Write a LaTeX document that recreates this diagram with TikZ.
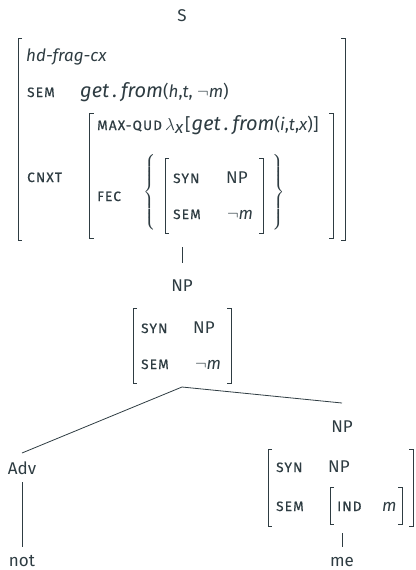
\documentclass[tikz,border=0pt]{standalone}
\usepackage{graphicx}
\usepackage{fontspec}
\setmainfont{Fira Sans}
\definecolor{ink}{RGB}{46,60,66}
\newcommand\fsc[1]{{\fontsize{13.5}{15}\selectfont\addfontfeature{LetterSpace=9,FakeBold=0.8}#1}}
\newcommand\gf{{\fontsize{20}{22}\selectfont\itshape get\hspace{3.5pt}.\hspace{3.5pt}from}}
\newcommand\myneg{$\neg$}
\begin{document}
\begin{tikzpicture}[x=1pt,y=-1pt,
  every node/.style={inner sep=0pt, text=ink, font=\fontsize{17}{20}\selectfont},
  lbl/.style={anchor=base west},
  cat/.style={anchor=base},
  brk/.style={draw=ink, line width=0.8pt},
  edge/.style={draw=ink, line width=0.8pt}]
\useasboundingbox (0,0) rectangle (415,570);
\newcommand\lbrk[3]{\draw[brk] ({#1+4},#2) -- (#1,#2) -- (#1,#3) -- ({#1+4},#3);}
\newcommand\rbrk[3]{\draw[brk] ({#1-4},#2) -- (#1,#2) -- (#1,#3) -- ({#1-4},#3);}
% top
\node[cat] (S) at (182,21) {S};
\lbrk{18}{38}{240}\rbrk{345}{38}{240}
\node[lbl] (type) at (26,61) {\itshape hd-frag-cx};
\node[lbl] (semA) at (27,97) {\fsc{SEM}};
\node[lbl] (semAv) at (80,97) {\gf(\textit{h},\textit{t}, \myneg\textit{m})};
\node[lbl] (cnxt) at (27,182) {\fsc{CNXT}};
\lbrk{89.5}{113}{238}\rbrk{333}{113}{238}
\node[lbl] (mq) at (97,130) {\fsc{MAX-QUD}};
\node[lbl] (mqv) at (165,130) {$\lambda_{\textit{x}}$\hspace{1.5pt}[\hspace{1pt}\gf(\textit{i},\textit{t},\textit{x})]};
\node[lbl] (fec) at (97,201) {\fsc{FEC}};
\node (lbr) at (151,194) {\scalebox{1.4}{$\left\{\vrule height 25pt depth 25pt width 0pt\right.$}};
\node (rbr) at (278,194) {\scalebox{1.4}{$\left.\vrule height 25pt depth 25pt width 0pt\right\}$}};
\lbrk{165}{158}{233}\rbrk{263}{158}{233}
\node[lbl] (syn1) at (173,183) {\fsc{SYN}};
\node[lbl] (syn1v) at (226,183) {NP};
\node[lbl] (sem1) at (173,219) {\fsc{SEM}};
\node[lbl] (sem1v) at (227,219) {\myneg\textit{m}};
\coordinate (Sbot) at (182,247);
% NP mid
\node[cat] (NP) at (182,291) {NP};
\coordinate (NPtop) at (182,263);
\lbrk{133}{308}{383}\rbrk{231}{308}{383}
\node[lbl] (syn2) at (141,333) {\fsc{SYN}};
\node[lbl] (syn2v) at (193,333) {NP};
\node[lbl] (sem2) at (141,369) {\fsc{SEM}};
\node[lbl] (sem2v) at (195,369) {\myneg\textit{m}};
\coordinate (NPbot) at (182,387);
% Adv
\node[cat] (Adv) at (22,474) {Adv};
\coordinate (Advtop) at (22,453);
\coordinate (Advbot) at (22,482);
\node[cat] (not) at (22,566) {not};
\coordinate (nottop) at (22,547);
% NP right
\node[cat] (NPr) at (342,432) {NP};
\coordinate (NPrtop) at (342,403);
\lbrk{268}{449}{526}\rbrk{413}{449}{526}
\node[lbl] (syn3) at (276,472) {\fsc{SYN}};
\node[lbl] (syn3v) at (328,472) {NP};
\node[lbl] (sem3) at (276,511) {\fsc{SEM}};
\lbrk{330}{487}{524}\rbrk{402}{487}{524}
\node[lbl] (ind) at (337,511) {\fsc{IND}};
\node[lbl] (indv) at (382,511) {\textit{m}};
\coordinate (NPrbot) at (342,533);
\node[cat] (me) at (342,566) {me};
\coordinate (metop) at (342,547);
% edges
\draw[edge] (Sbot) -- (NPtop);
\draw[edge] (NPbot) -- (Advtop);
\draw[edge] (NPbot) -- (NPrtop);
\draw[edge] (Advbot) -- (nottop);
\draw[edge] (NPrbot) -- (metop);
\end{tikzpicture}
\end{document}
